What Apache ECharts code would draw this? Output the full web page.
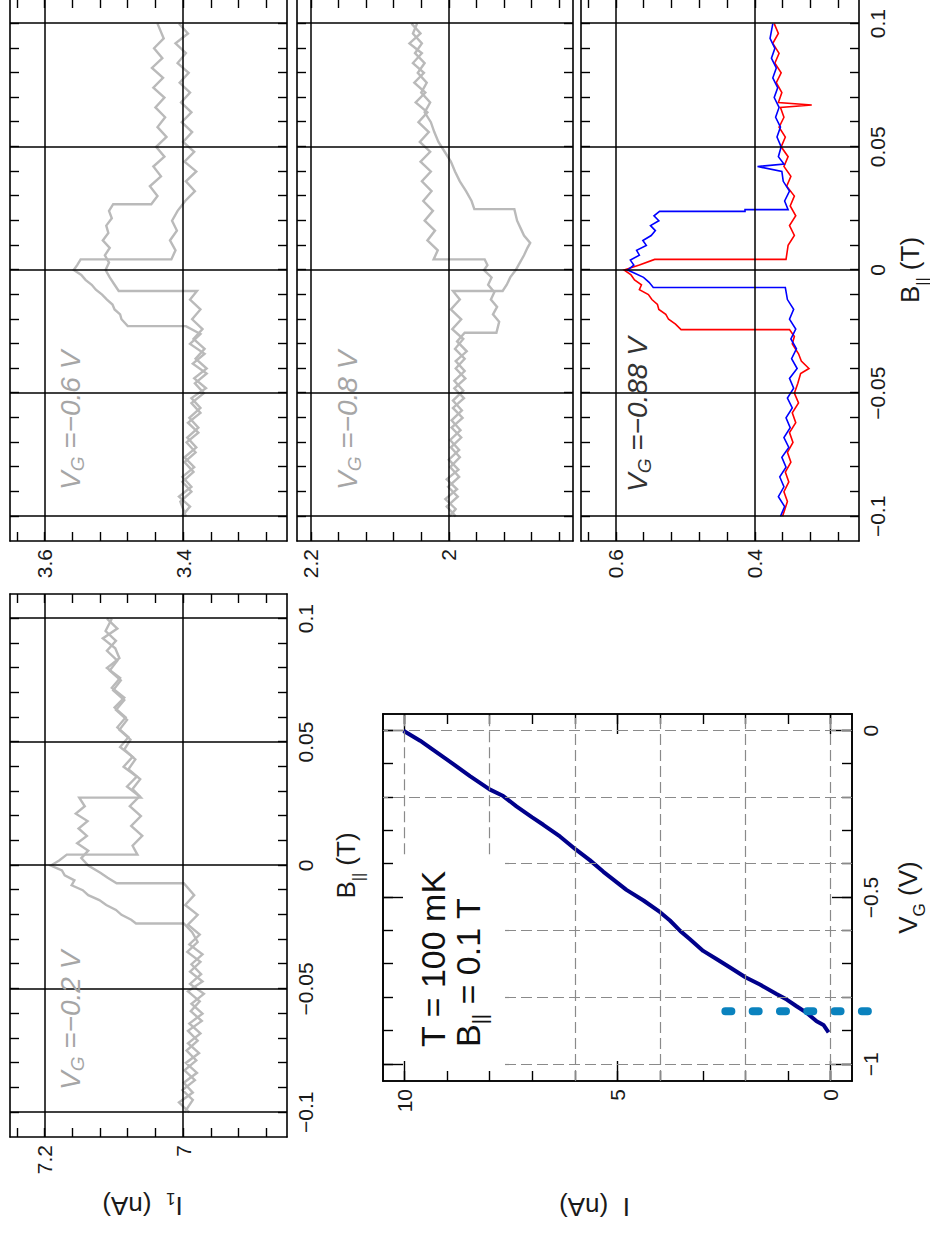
<!DOCTYPE html>
<html>
<head>
<meta charset="utf-8">
<script src="https://cdn.jsdelivr.net/npm/echarts@6/dist/echarts.min.js"></script>
<style>
html, body { margin: 0; padding: 0; width: 930px; height: 1234px; overflow: hidden; background: #fff; }
/* the figure is drawn upright (1240 x 930) and turned a quarter turn, like the scan */
#fig { position: absolute; left: 0; top: 0; width: 1240px; height: 930px;
       transform-origin: 0 0; transform: translate(0, 1234px) rotate(-90deg); }
</style>
</head>
<body>
<div id="fig"></div>
<script>
// ---- data: [B (T), I (nA)] ----
var aDown = [ // VG = -0.2 V, sweep down
  [0.100,7.110],[0.096,7.095],[0.092,7.116],[0.088,7.098],[0.084,7.092],[0.080,7.110],[0.076,7.091],[0.072,7.103],[0.068,7.085],[0.064,7.099],
  [0.060,7.083],[0.056,7.095],[0.052,7.079],[0.048,7.091],[0.044,7.073],[0.040,7.086],[0.036,7.067],[0.032,7.081],[0.028,7.063],[0.024,7.077],
  [0.020,7.061],[0.016,7.075],[0.012,7.059],[0.008,7.073],[0.0044,7.066],
  [0.0044,7.168],[0.002,7.179],[0.000,7.191],[-0.002,7.175],[-0.004,7.171],[-0.006,7.157],[-0.008,7.161],[-0.010,7.145],[-0.012,7.137],
  [-0.014,7.121],[-0.016,7.111],[-0.018,7.097],[-0.020,7.089],[-0.022,7.075],[-0.0235,7.068],
  [-0.0235,6.999],[-0.027,6.987],[-0.031,6.979],[-0.035,6.994],[-0.039,6.975],[-0.043,6.990],[-0.047,6.972],[-0.051,6.993],[-0.055,6.976],
  [-0.059,6.989],[-0.063,6.973],[-0.067,6.993],[-0.071,6.979],[-0.075,6.995],[-0.079,6.981],[-0.083,6.998],[-0.087,6.983],[-0.091,7.001],
  [-0.095,6.986],[-0.100,6.998]
];
var aUp = [ // VG = -0.2 V, sweep up
  [-0.100,6.991],[-0.096,7.006],[-0.092,6.986],[-0.088,6.999],[-0.084,6.980],[-0.080,6.996],[-0.076,6.977],[-0.072,6.993],[-0.068,6.975],
  [-0.064,6.991],[-0.060,6.972],[-0.056,6.988],[-0.052,6.970],[-0.048,6.990],[-0.044,6.974],[-0.040,6.988],[-0.036,6.972],[-0.032,6.991],
  [-0.028,6.976],[-0.024,6.993],[-0.020,6.979],[-0.016,6.997],[-0.012,6.984],[-0.0072,6.999],
  [-0.0072,7.096],[-0.005,7.109],[-0.003,7.119],[0.000,7.137],[0.003,7.147],[0.006,7.137],[0.009,7.153],[0.012,7.139],[0.015,7.151],
  [0.018,7.138],[0.021,7.155],[0.024,7.142],[0.0275,7.150],
  [0.0275,7.061],[0.031,7.073],[0.035,7.062],[0.039,7.079],[0.043,7.069],[0.047,7.085],[0.051,7.076],[0.055,7.092],[0.059,7.081],
  [0.063,7.097],[0.067,7.085],[0.071,7.101],[0.075,7.090],[0.079,7.106],[0.083,7.095],[0.087,7.110],[0.091,7.097],[0.095,7.112],[0.100,7.103]
];
var bDown = [ // VG = -0.6 V
  [0.100,3.406],[0.096,3.393],[0.092,3.411],[0.088,3.396],[0.084,3.408],[0.080,3.392],[0.076,3.405],[0.072,3.390],[0.068,3.403],[0.064,3.388],
  [0.060,3.402],[0.056,3.387],[0.052,3.400],[0.048,3.384],[0.044,3.398],[0.040,3.381],[0.036,3.396],[0.032,3.383],[0.028,3.397],[0.024,3.408],
  [0.020,3.416],[0.016,3.409],[0.012,3.419],[0.008,3.411],[0.0043,3.417],
  [0.0043,3.548],[0.002,3.553],[0.000,3.558],[-0.002,3.547],[-0.004,3.541],[-0.006,3.532],[-0.008,3.526],[-0.010,3.517],[-0.012,3.510],
  [-0.014,3.502],[-0.016,3.499],[-0.018,3.491],[-0.020,3.489],[-0.0228,3.480],
  [-0.0228,3.396],[-0.026,3.375],[-0.030,3.390],[-0.034,3.369],[-0.038,3.386],[-0.042,3.366],[-0.046,3.383],[-0.050,3.370],[-0.054,3.388],
  [-0.058,3.375],[-0.062,3.393],[-0.066,3.378],[-0.070,3.395],[-0.074,3.382],[-0.078,3.398],[-0.082,3.385],[-0.086,3.401],[-0.090,3.388],
  [-0.094,3.404],[-0.100,3.396]
];
var bUp = [
  [-0.100,3.402],[-0.096,3.390],[-0.092,3.406],[-0.088,3.388],[-0.084,3.401],[-0.080,3.384],[-0.076,3.398],[-0.072,3.381],[-0.068,3.394],
  [-0.064,3.378],[-0.060,3.391],[-0.056,3.375],[-0.052,3.388],[-0.048,3.367],[-0.044,3.384],[-0.040,3.366],[-0.036,3.382],[-0.032,3.369],
  [-0.028,3.385],[-0.024,3.372],[-0.020,3.387],[-0.016,3.375],[-0.012,3.390],[-0.0085,3.380],
  [-0.0085,3.493],[-0.006,3.499],[-0.003,3.506],[0.000,3.512],[0.003,3.507],[0.006,3.513],[0.009,3.506],[0.012,3.516],[0.015,3.508],
  [0.018,3.511],[0.021,3.503],[0.024,3.507],[0.0267,3.501],
  [0.0267,3.446],[0.030,3.437],[0.034,3.448],[0.038,3.432],[0.042,3.443],[0.046,3.427],[0.050,3.439],[0.054,3.424],[0.058,3.437],
  [0.062,3.426],[0.066,3.440],[0.070,3.427],[0.074,3.443],[0.078,3.429],[0.082,3.445],[0.086,3.430],[0.090,3.442],[0.094,3.428],[0.100,3.437]
];
var cDown = [ // VG = -0.8 V
  [0.100,2.054],[0.096,2.041],[0.092,2.057],[0.088,2.039],[0.084,2.052],[0.080,2.036],[0.076,2.050],[0.072,2.034],[0.068,2.048],[0.064,2.031],
  [0.060,2.044],[0.056,2.029],[0.052,2.042],[0.048,2.027],[0.044,2.041],[0.040,2.026],[0.036,2.039],[0.032,2.025],[0.028,2.037],[0.024,2.023],
  [0.020,2.035],[0.016,2.020],[0.012,2.031],[0.008,2.016],[0.0043,2.022],
  [0.0043,1.948],[0.002,1.944],[0.000,1.949],[-0.003,1.938],[-0.006,1.943],[-0.009,1.934],[-0.012,1.939],[-0.015,1.930],[-0.018,1.936],
  [-0.021,1.927],[-0.0255,1.931],
  [-0.0255,1.977],[-0.029,1.988],[-0.033,1.974],[-0.037,1.990],[-0.041,1.977],[-0.045,1.992],[-0.049,1.979],[-0.053,1.994],[-0.057,1.981],
  [-0.061,1.996],[-0.065,1.983],[-0.069,1.998],[-0.073,1.985],[-0.077,2.000],[-0.081,1.986],[-0.085,2.003],[-0.089,1.988],[-0.093,2.005],
  [-0.097,1.990],[-0.100,1.999]
];
var cUp = [
  [-0.100,1.990],[-0.096,2.003],[-0.092,1.987],[-0.088,2.001],[-0.084,1.985],[-0.080,1.998],[-0.076,1.984],[-0.072,1.997],[-0.068,1.982],
  [-0.064,1.996],[-0.060,1.980],[-0.056,1.994],[-0.052,1.978],[-0.048,1.992],[-0.044,1.976],[-0.040,1.990],[-0.036,1.977],[-0.032,1.991],
  [-0.028,1.979],[-0.024,1.995],[-0.020,1.982],[-0.016,1.997],[-0.012,1.984],[-0.0085,1.994],
  [-0.0085,1.922],[-0.006,1.916],[-0.003,1.911],[0.000,1.903],[0.003,1.897],[0.006,1.891],[0.009,1.886],[0.011,1.882],[0.014,1.891],
  [0.017,1.896],[0.020,1.901],[0.0247,1.905],
  [0.0247,1.963],[0.028,1.967],[0.032,1.975],[0.036,1.984],[0.040,1.991],[0.044,1.997],[0.048,2.006],[0.052,2.015],[0.056,2.021],
  [0.060,2.026],[0.064,2.035],[0.068,2.027],[0.072,2.040],[0.076,2.032],[0.080,2.045],[0.084,2.035],[0.088,2.049],[0.092,2.039],
  [0.096,2.052],[0.100,2.046]
];
var dDown = [ // VG = -0.88 V, red
  [0.100,0.372],[0.096,0.366],[0.092,0.374],[0.088,0.365],[0.084,0.371],[0.080,0.362],[0.076,0.369],[0.072,0.361],[0.068,0.366],[0.067,0.318],
  [0.066,0.363],[0.062,0.358],[0.058,0.365],[0.054,0.356],[0.050,0.362],[0.046,0.352],[0.042,0.358],[0.038,0.348],[0.034,0.354],[0.030,0.343],
  [0.026,0.349],[0.022,0.341],[0.018,0.350],[0.014,0.343],[0.010,0.352],[0.0043,0.355],
  [0.0043,0.544],[0.002,0.566],[0.000,0.588],[-0.002,0.578],[-0.004,0.573],[-0.006,0.563],[-0.008,0.566],[-0.010,0.553],[-0.012,0.548],
  [-0.014,0.540],[-0.016,0.538],[-0.018,0.528],[-0.020,0.524],[-0.022,0.514],[-0.0242,0.506],
  [-0.0242,0.350],[-0.027,0.343],[-0.030,0.346],[-0.034,0.337],[-0.037,0.333],[-0.040,0.322],[-0.042,0.334],[-0.046,0.338],[-0.050,0.343],
  [-0.054,0.337],[-0.058,0.346],[-0.062,0.341],[-0.066,0.350],[-0.070,0.345],[-0.074,0.353],[-0.078,0.348],[-0.082,0.356],[-0.086,0.351],
  [-0.090,0.358],[-0.094,0.353],[-0.100,0.360]
];
var dUp = [ // VG = -0.88 V, blue
  [-0.100,0.363],[-0.096,0.357],[-0.092,0.366],[-0.088,0.358],[-0.084,0.364],[-0.080,0.355],[-0.076,0.361],[-0.072,0.351],[-0.068,0.358],
  [-0.064,0.349],[-0.060,0.355],[-0.056,0.346],[-0.052,0.353],[-0.048,0.344],[-0.044,0.350],[-0.040,0.339],[-0.036,0.347],[-0.032,0.340],
  [-0.028,0.348],[-0.024,0.341],[-0.020,0.350],[-0.016,0.344],[-0.012,0.353],[-0.0071,0.356],
  [-0.0071,0.546],[-0.005,0.552],[-0.003,0.560],[-0.001,0.575],[0.000,0.583],[0.002,0.574],[0.004,0.579],[0.006,0.566],[0.008,0.570],
  [0.010,0.556],[0.012,0.561],[0.014,0.549],[0.016,0.543],[0.018,0.550],[0.020,0.538],[0.022,0.545],[0.0238,0.537],
  [0.0238,0.414],[0.0245,0.414],[0.0245,0.352],[0.028,0.357],[0.032,0.350],[0.036,0.359],[0.040,0.361],[0.042,0.396],[0.043,0.358],
  [0.046,0.366],[0.050,0.362],[0.054,0.368],[0.058,0.363],[0.062,0.370],[0.066,0.365],[0.070,0.372],[0.074,0.367],[0.078,0.374],
  [0.082,0.369],[0.086,0.376],[0.090,0.371],[0.094,0.378],[0.100,0.374]
];

// gate sweep at T = 100 mK, B = 0.1 T
var ivGate    = [-0.904,-0.882,-0.871,-0.846,-0.826,-0.806,-0.789,-0.761,-0.739,-0.710,-0.685,-0.660,-0.625,-0.600,-0.569,-0.544,-0.509,
                 -0.477,-0.456,-0.423,-0.388,-0.356,-0.317,-0.282,-0.260,-0.227,-0.196,-0.176,-0.136,-0.100,-0.065,-0.030,0.000];
var ivCurrent = [0.05,0.17,0.33,0.56,0.80,1.03,1.27,1.66,2.00,2.36,2.67,2.99,3.30,3.53,3.77,4.00,4.39,
                 4.79,5.00,5.33,5.65,5.98,6.35,6.74,7.00,7.37,7.68,8.00,8.46,8.85,9.24,9.63,10.02];
var markerGate = -0.841;
var markerCurrent = [2.47, -0.99];

// ticks, labels, grid lines
var fieldTicks  = [-0.1,-0.09,-0.08,-0.07,-0.06,-0.05,-0.04,-0.03,-0.02,-0.01,0,0.01,0.02,0.03,0.04,0.05,0.06,0.07,0.08,0.09,0.1];
var fieldLabels = [-0.1,-0.05,0,0.05,0.1];
var aTicks = [6.88,6.92,6.96,7,7.04,7.08,7.12,7.16,7.2,7.24], aLabels = [7,7.2];
var bTicks = [3.28,3.32,3.36,3.4,3.44,3.48,3.52,3.56,3.6,3.64], bLabels = [3.4,3.6];
var cTicks = [1.84,1.88,1.92,1.96,2,2.04,2.08,2.12,2.16,2.2], cLabels = [2,2.2];
var dTicks = [0.28,0.32,0.36,0.4,0.44,0.48,0.52,0.56,0.6,0.64], dLabels = [0.4,0.6];
var gateTicks = [-1,-0.9,-0.8,-0.7,-0.6,-0.5,-0.4,-0.3,-0.2,-0.1,0], gateMajor = [-1,-0.5,0];
var currentTicks = [0,1,2,3,4,5,6,7,8,9,10], currentMajor = [0,5,10];
var ivGateGrid = [0,-0.2,-0.4,-0.6,-0.8,-1];
var ivCurrentGrid = [10,8,6,4,2,0];
var ivTextBox = [-0.37, 7.68]; // corner of the blank area behind the T / B text

var FONT = '"Liberation Sans", Arial, Helvetica, sans-serif';
var GREY = '#bababa';

function fmt(v) {
  var s = String(Math.round(v * 1000) / 1000);
  return s.charAt(0) === '-' ? '\u2212' + s.slice(1) : s;
}

var nameRich = {
  m: { fontSize: 26, lineHeight: 40, fontFamily: FONT, color: '#1a1a1a' },
  p: { fontSize: 16, lineHeight: 16, fontFamily: FONT, color: '#1a1a1a', verticalAlign: 'bottom' },
  s: { fontSize: 17, lineHeight: 17, fontFamily: FONT, color: '#1a1a1a', verticalAlign: 'bottom' }
};
var yNameRich = {
  m: { fontSize: 26, lineHeight: 32, fontFamily: FONT, color: '#1a1a1a' },
  s: { fontSize: 17, lineHeight: 17, fontFamily: FONT, color: '#1a1a1a', verticalAlign: 'bottom' }
};

function axis(gi, pos, min, max, ticks, len, labels, name, gap, extra) {
  var a = {
    type: 'value', gridIndex: gi, position: pos, min: min, max: max,
    axisLine: { show: true, onZero: false, lineStyle: { color: '#000', width: 1.6 } },
    axisTick: { show: true, inside: true, length: len, customValues: ticks, lineStyle: { color: '#000', width: 1.4 } },
    axisLabel: labels ? { show: true, customValues: labels, formatter: fmt, color: '#1a1a1a',
                          fontSize: 21, fontFamily: FONT, margin: 8 } : { show: false },
    splitLine: { show: false },
    name: name || '', nameLocation: 'middle', nameGap: gap || 0, nameMoveOverlap: false
  };
  for (var k in extra) a[k] = extra[k];
  return a;
}

var grids = [], xAxes = [], yAxes = [], series = [];

function gridLineSeries(xi, yi, lines, style) {
  return { type: 'line', xAxisIndex: xi, yAxisIndex: yi, data: [], z: 1, silent: true,
           markLine: { silent: true, symbol: 'none', animation: false, label: { show: false },
                       lineStyle: style, data: lines } };
}

function addPanel(p) {
  var gi = grids.length;
  grids.push({ left: p.rect[0], top: p.rect[1], width: p.rect[2], height: p.rect[3],
               containLabel: false, outerBoundsMode: 'none' });
  var xi = xAxes.length, yi = yAxes.length;
  xAxes.push(axis(gi, 'bottom', -0.11, 0.11, fieldTicks, 9, p.xLabels ? fieldLabels : null,
                  p.xLabels ? '{m|B}{p|||}{m| (T)}' : '', p.nameGap, { nameTextStyle: { rich: nameRich } }));
  xAxes.push(axis(gi, 'top', -0.11, 0.11, fieldTicks, 9, null));
  yAxes.push(axis(gi, 'left', p.min, p.max, p.ticks, 9, p.labels, p.yName, 53,
                  { nameRotate: 90, nameTextStyle: { rich: yNameRich, padding: [0, 0, 0, 12] } }));
  yAxes.push(axis(gi, 'right', p.min, p.max, p.ticks, 9, null));
  var lines = fieldLabels.map(function (v) { return { xAxis: v }; })
    .concat(p.labels.map(function (v) { return { yAxis: v }; }));
  series.push(gridLineSeries(xi, yi, lines, { color: '#000', width: 1.5, type: 'solid' }));
  p.traces.forEach(function (t, k) {
    series.push({ type: 'line', xAxisIndex: xi, yAxisIndex: yi, data: t,
                  showSymbol: false, symbol: 'none', silent: true, z: 2 + k,
                  lineStyle: { color: p.colors[k], width: p.width, join: 'miter' } });
  });
}

addPanel({ rect: [97, 10, 543, 277], min: 6.85, max: 7.25, ticks: aTicks, labels: aLabels,
           traces: [aDown, aUp], colors: [GREY, GREY], width: 2.4, xLabels: true, nameGap: 39,
           yName: '{m|I}{s|1}{m|  (nA)}' });
addPanel({ rect: [693, 10, 542, 277], min: 3.25, max: 3.65, ticks: bTicks, labels: bLabels,
           traces: [bDown, bUp], colors: [GREY, GREY], width: 2.4, xLabels: false });
addPanel({ rect: [693, 297, 542, 276], min: 1.82, max: 2.22, ticks: cTicks, labels: cLabels,
           traces: [cDown, cUp], colors: [GREY, GREY], width: 2.4, xLabels: false });
addPanel({ rect: [693, 581, 542, 278], min: 0.25, max: 0.65, ticks: dTicks, labels: dLabels,
           traces: [dDown, dUp], colors: ['#ff0000', '#0000ff'], width: 1.6, xLabels: true, nameGap: 31 });

// I versus VG panel
(function () {
  var gi = grids.length;
  grids.push({ left: 153, top: 383, width: 367, height: 469, containLabel: false, outerBoundsMode: 'none' });
  var xi = xAxes.length, yi = yAxes.length;
  xAxes.push(axis(gi, 'bottom', -1.05, 0.05, gateTicks, 10, gateMajor, '{m|V}{s|G}{m| (V)}', 36,
                  { nameTextStyle: { rich: nameRich } }));
  xAxes.push(axis(gi, 'top', -1.05, 0.05, gateTicks, 10, null));
  xAxes.push(axis(gi, 'bottom', -1.05, 0.05, gateMajor, 20, null));
  xAxes.push(axis(gi, 'top', -1.05, 0.05, gateMajor, 20, null));
  yAxes.push(axis(gi, 'left', -0.5, 10.5, currentTicks, 10, currentMajor, '{m|I  (nA)}', 110,
                  { nameRotate: 90, nameTextStyle: { rich: yNameRich, padding: [0, 0, 0, 46] } }));
  yAxes.push(axis(gi, 'right', -0.5, 10.5, currentTicks, 10, null));
  yAxes.push(axis(gi, 'left', -0.5, 10.5, currentMajor, 20, null));
  yAxes.push(axis(gi, 'right', -0.5, 10.5, currentMajor, 20, null));

  var lines = [];
  ivCurrentGrid.forEach(function (c) {
    lines.push([{ coord: [c > ivTextBox[1] ? ivTextBox[0] : -1.05, c] }, { coord: [0.05, c] }]);
  });
  ivGateGrid.forEach(function (g) {
    lines.push([{ coord: [g, -0.5] }, { coord: [g, g < ivTextBox[0] ? ivTextBox[1] : 10.5] }]);
  });
  series.push(gridLineSeries(xi, yi, lines, { color: '#8a8a8a', width: 1.2, type: [11, 5] }));
  series.push({ type: 'line', xAxisIndex: xi, yAxisIndex: yi, z: 3, silent: true,
                data: ivGate.map(function (g, i) { return [g, ivCurrent[i]]; }),
                showSymbol: false, symbol: 'none', lineStyle: { color: '#00008b', width: 4 } });
  series.push({ type: 'line', xAxisIndex: xi, yAxisIndex: yi, z: 4, silent: true, clip: false,
                data: [[markerGate, markerCurrent[0]], [markerGate, markerCurrent[1]]],
                showSymbol: false, symbol: 'none',
                lineStyle: { color: '#0a82be', width: 8, type: [6, 21.3], cap: 'round' } });
})();

function vgText(x, y, value, color) {
  return { type: 'text', x: x, y: y, silent: true, z: 20,
           style: { text: '{v|V}{s|G}{v| =\u2212' + value + ' V}', align: 'left', verticalAlign: 'top',
                    rich: { v: { fontSize: 28, lineHeight: 34, fontStyle: 'italic', fontFamily: FONT, fill: color },
                            s: { fontSize: 19, lineHeight: 19, fontStyle: 'italic', fontFamily: FONT, fill: color,
                                 verticalAlign: 'bottom' } } } };
}
var bigRich = { t: { fontSize: 34, lineHeight: 44, fontFamily: FONT, fill: '#111' },
                p: { fontSize: 20, lineHeight: 20, fontFamily: FONT, fill: '#111', verticalAlign: 'bottom' } };

var chart = echarts.init(document.getElementById('fig'), null, { renderer: 'svg' });
chart.setOption({
  animation: false,
  backgroundColor: '#fff',
  textStyle: { fontFamily: FONT },
  grid: grids, xAxis: xAxes, yAxis: yAxes, series: series,
  graphic: [
    vgText(144, 53, '0.2', '#a6a6a6'),
    vgText(744, 53, '0.6', '#a6a6a6'),
    vgText(744, 330, '0.8', '#a6a6a6'),
    vgText(742, 620, '0.88', '#333'),
    { type: 'text', x: 187, y: 411, silent: true, z: 20,
      style: { text: '{t|T = 100 mK}', align: 'left', verticalAlign: 'top', rich: bigRich } },
    { type: 'text', x: 187, y: 446, silent: true, z: 20,
      style: { text: '{t|B}{p|||}{t| = 0.1 T}', align: 'left', verticalAlign: 'top', rich: bigRich } }
  ]
});
</script>
</body>
</html>
